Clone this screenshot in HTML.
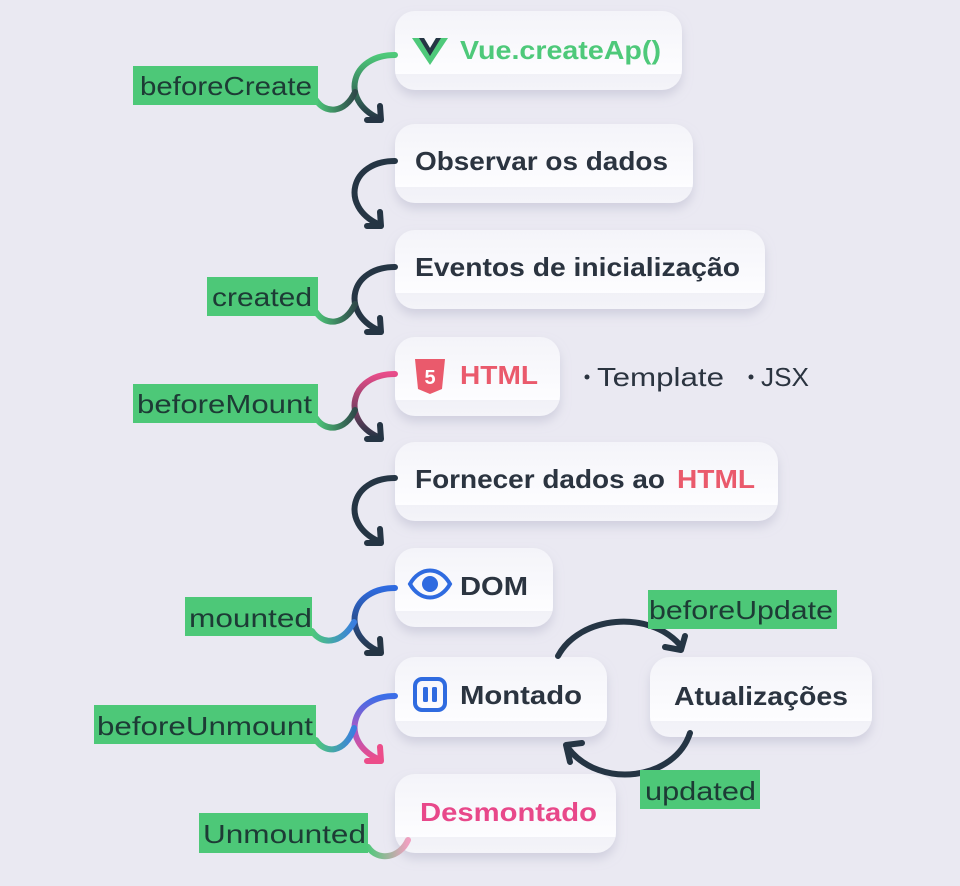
<!DOCTYPE html>
<html><head><meta charset="utf-8"><style>
html,body{margin:0;padding:0;background:#eae9f2;}
svg{display:block}
.bt{font-family:"Liberation Sans",sans-serif;font-weight:bold;font-size:26px;fill:#2b3440}
.lt{font-family:"Liberation Sans",sans-serif;font-size:26px;fill:#1d3b35}
</style></head><body>
<svg width="960" height="886" viewBox="0 0 960 886" xmlns="http://www.w3.org/2000/svg">
<defs>
<filter id="sh" x="-10%" y="-20%" width="120%" height="160%"><feDropShadow dx="0" dy="6" stdDeviation="5" flood-color="#b8b8cc" flood-opacity="0.5"/></filter>
<linearGradient id="box" x1="0" y1="0" x2="0" y2="1"><stop offset="0" stop-color="#f4f4f9"/><stop offset="0.8" stop-color="#fdfdff"/><stop offset="0.8" stop-color="#f1f1f7"/><stop offset="1" stop-color="#f4f4f9"/></linearGradient>
<linearGradient id="gG" x1="0" y1="0" x2="0" y2="1"><stop offset="0" stop-color="#4ec97a"/><stop offset="1" stop-color="#253544"/></linearGradient>
<linearGradient id="gP" x1="0" y1="0" x2="0" y2="1"><stop offset="0" stop-color="#e84c8a"/><stop offset="1" stop-color="#253544"/></linearGradient>
<linearGradient id="gB" x1="0" y1="0" x2="0" y2="1"><stop offset="0" stop-color="#2f6be0"/><stop offset="1" stop-color="#253544"/></linearGradient>
<linearGradient id="gU" x1="0" y1="0" x2="0" y2="1"><stop offset="0" stop-color="#3a6ee8"/><stop offset="0.5" stop-color="#a55ac8"/><stop offset="1" stop-color="#ec4d8a"/></linearGradient>
<linearGradient id="hk" x1="0" y1="0" x2="1" y2="0"><stop offset="0" stop-color="#4ec97a"/><stop offset="1" stop-color="#2f4a4a"/></linearGradient>
<linearGradient id="hk2" x1="0" y1="0" x2="1" y2="0"><stop offset="0" stop-color="#4ec97a"/><stop offset="1" stop-color="#3a7ee0"/></linearGradient>
<linearGradient id="hk3" x1="0" y1="0" x2="1" y2="0"><stop offset="0" stop-color="#4ec97a"/><stop offset="1" stop-color="#f0a0c0"/></linearGradient>
</defs>

<g filter="url(#sh)" fill="url(#box)">
<rect x="395" y="11" width="287" height="79" rx="20"/>
<rect x="395" y="124" width="298" height="79" rx="20"/>
<rect x="395" y="230" width="370" height="79" rx="20"/>
<rect x="395" y="337" width="165" height="79" rx="20"/>
<rect x="395" y="442" width="383" height="79" rx="20"/>
<rect x="395" y="548" width="158" height="79" rx="20"/>
<rect x="395" y="657" width="212" height="80" rx="20"/>
<rect x="650" y="657" width="222" height="80" rx="20"/>
<rect x="395" y="774" width="221" height="79" rx="20"/>
</g>

<g fill="none" stroke-width="6" stroke-linecap="round" stroke-linejoin="round">
<path d="M395,55 C350,55 340,100 378,118" stroke="url(#gG)"/>
<path d="M380,106 L381,120 L367,120" stroke="#253544"/>
<path d="M395,161 C350,161 340,206 378,224" stroke="#253544"/>
<path d="M380,212 L381,226 L367,226" stroke="#253544"/>
<path d="M395,267 C350,267 340,312 378,330" stroke="#253544"/>
<path d="M380,318 L381,332 L367,332" stroke="#253544"/>
<path d="M395,374 C350,374 340,419 378,437" stroke="url(#gP)"/>
<path d="M380,425 L381,439 L367,439" stroke="#253544"/>
<path d="M395,478 C350,478 340,523 378,541" stroke="#253544"/>
<path d="M380,529 L381,543 L367,543" stroke="#253544"/>
<path d="M395,588 C350,588 340,633 378,651" stroke="url(#gB)"/>
<path d="M380,639 L381,653 L367,653" stroke="#253544"/>
<path d="M395,696 C350,696 340,741 378,759" stroke="url(#gU)"/>
<path d="M380,747 L381,761 L367,761" stroke="#ec4d8a"/>
<path d="M316,100 C325,114 345,114 355,92" stroke="url(#hk)"/>
<path d="M316,312 C325,326 345,326 355,304" stroke="url(#hk)"/>
<path d="M316,418 C325,432 345,432 355,410" stroke="url(#hk)"/>
<path d="M312,631 C321,645 341,645 354,622" stroke="url(#hk2)"/>
<path d="M316,740 C325,754 345,754 354,728" stroke="url(#hk2)"/>
<path d="M368,847 C378,862 400,858 408,840" stroke="url(#hk3)"/>
<path d="M558,656 C580,615 650,610 680,645" stroke="#253544"/>
<path d="M665,647 L681,650 L685,636" stroke="#253544"/>
<path d="M690,733 C675,780 600,790 568,748" stroke="#253544"/>
<path d="M570,762 L566,745 L582,743" stroke="#253544"/>
</g>

<g fill="#4dc878">
<rect x="133" y="66" width="185" height="39"/>
<rect x="207" y="277" width="111" height="39"/>
<rect x="133" y="384" width="185" height="39"/>
<rect x="185" y="597" width="127" height="39"/>
<rect x="94" y="705" width="222" height="39"/>
<rect x="199" y="813" width="169" height="40"/>
<rect x="648" y="590" width="189" height="39"/>
<rect x="640" y="770" width="120" height="39"/>
</g>
<g class="lt">
<text x="140" y="95" textLength="172" lengthAdjust="spacingAndGlyphs">beforeCreate</text>
<text x="212" y="306" textLength="100" lengthAdjust="spacingAndGlyphs">created</text>
<text x="137" y="413" textLength="175" lengthAdjust="spacingAndGlyphs">beforeMount</text>
<text x="189" y="627" textLength="123" lengthAdjust="spacingAndGlyphs">mounted</text>
<text x="97" y="735" textLength="216" lengthAdjust="spacingAndGlyphs">beforeUnmount</text>
<text x="203" y="843" textLength="163" lengthAdjust="spacingAndGlyphs">Unmounted</text>
<text x="649" y="619" textLength="184" lengthAdjust="spacingAndGlyphs">beforeUpdate</text>
<text x="645" y="800" textLength="111" lengthAdjust="spacingAndGlyphs">updated</text>
</g>

<path d="M412,38 L424,38 L430,48 L436,38 L448,38 L430,65 Z" fill="#4ec97a"/>
<path d="M419,38 L424,38 L430,48 L436,38 L441,38 L430,56 Z" fill="#253544"/>
<path d="M415,359 L445,359 L442,389 L430,394 L418,389 Z" fill="#ea5a6c"/>
<text x="430" y="384" text-anchor="middle" font-family="Liberation Sans" font-weight="bold" font-size="20" fill="#fff">5</text>
<path d="M410,584 C420,566 440,566 450,584 C440,602 420,602 410,584 Z" fill="none" stroke="#2f6be0" stroke-width="4"/>
<circle cx="430" cy="584" r="8" fill="#2f6be0"/>
<rect x="415" y="679" width="30" height="31" rx="7" fill="none" stroke="#2f6be0" stroke-width="4"/>
<rect x="423" y="687" width="5" height="15" rx="1.5" fill="#2f6be0"/>
<rect x="432" y="687" width="5" height="15" rx="1.5" fill="#2f6be0"/>

<g class="bt">
<text x="460" y="59" style="fill:#4ec97a" textLength="201" lengthAdjust="spacingAndGlyphs">Vue.createAp()</text>
<text x="415" y="170" textLength="253" lengthAdjust="spacingAndGlyphs">Observar os dados</text>
<text x="415" y="276" textLength="325" lengthAdjust="spacingAndGlyphs">Eventos de inicialização</text>
<text x="460" y="384" style="fill:#ea5a6c" textLength="78" lengthAdjust="spacingAndGlyphs">HTML</text>
<text x="415" y="488" textLength="250" lengthAdjust="spacingAndGlyphs">Fornecer dados ao</text>
<text x="677" y="488" style="fill:#ea5a6c" textLength="78" lengthAdjust="spacingAndGlyphs">HTML</text>
<text x="460" y="595" textLength="68" lengthAdjust="spacingAndGlyphs">DOM</text>
<text x="460" y="704" textLength="122" lengthAdjust="spacingAndGlyphs">Montado</text>
<text x="674" y="705" textLength="174" lengthAdjust="spacingAndGlyphs">Atualizações</text>
<text x="420" y="821" style="fill:#e8488a" textLength="177" lengthAdjust="spacingAndGlyphs">Desmontado</text>
</g>
<g font-family="Liberation Sans" font-size="26" fill="#2b3440">
<circle cx="587" cy="377" r="2.5"/>
<text x="597" y="386" textLength="127" lengthAdjust="spacingAndGlyphs">Template</text>
<circle cx="751" cy="377" r="2.5"/>
<text x="761" y="386" textLength="48" lengthAdjust="spacingAndGlyphs">JSX</text>
</g>
</svg>
</body></html>
